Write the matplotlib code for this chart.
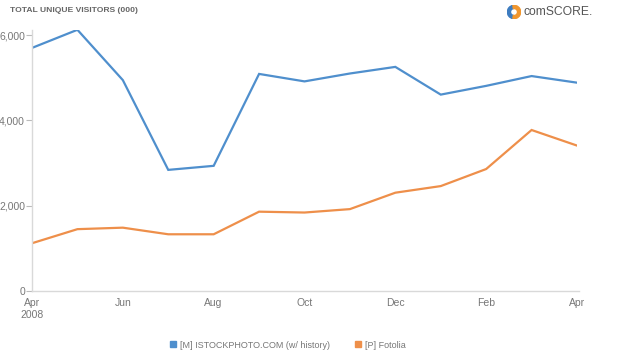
import matplotlib.pyplot as plt
from matplotlib.patches import Wedge
from matplotlib.lines import Line2D

plt.rcParams['font.family'] = ['Liberation Sans Narrow', 'Liberation Sans', 'DejaVu Sans']

# months Apr 2008 .. Apr 2009
months = ['Apr', 'May', 'Jun', 'Jul', 'Aug', 'Sep', 'Oct', 'Nov', 'Dec', 'Jan', 'Feb', 'Mar', 'Apr']
istock = [5700, 6125, 4945, 2840, 2935, 5090, 4915, 5100, 5255, 4605, 4810, 5040, 4885]
fotolia = [1120, 1450, 1485, 1330, 1330, 1860, 1840, 1920, 2305, 2460, 2860, 3775, 3410]
tick_labels = ['Apr\n2008', 'Jun', 'Aug', 'Oct', 'Dec', 'Feb', 'Apr']
yticks = [0, 2000, 4000, 6000]

blue = '#4f8fcd'
orange = '#ee8f4a'
grey = '#777777'

fig = plt.figure(figsize=(6.24, 3.53), dpi=100)
ax = fig.add_axes([32 / 624, 1 - 291 / 353, (577 - 32) / 624, (291 - 30) / 353])

x = list(range(len(months)))
ax.plot(x, istock, color=blue, lw=1.6, solid_joinstyle='miter')
ax.plot(x, fotolia, color=orange, lw=1.6, solid_joinstyle='miter')

ax.set_xlim(0, 12)
ax.set_ylim(0, 6120)
ax.set_xticks(x[::2])
ax.set_xticklabels(tick_labels)
ax.set_yticks(yticks)
ax.set_yticklabels(['{:,}'.format(v) for v in yticks])

for s in ['top', 'right']:
    ax.spines[s].set_visible(False)
for s in ['left', 'bottom']:
    ax.spines[s].set_color('#d9d9d9')
    ax.spines[s].set_linewidth(1.0)
ax.tick_params(axis='y', length=4, width=0.8, color='#bbbbbb', labelsize=7.5, labelcolor=grey, pad=1)
ax.tick_params(axis='x', length=0, labelsize=7.5, labelcolor=grey, pad=5)
ax.spines['bottom'].set_bounds(0, 12.05)

fig.text(10 / 624, 1 - 10 / 353, 'TOTAL UNIQUE VISITORS (000)', fontsize=6.1, fontweight='bold',
         color='#666666', va='center', ha='left', family=['Liberation Sans', 'DejaVu Sans'])

# comScore logo
lax = fig.add_axes([507 / 624, 1 - 19 / 353, 14 / 624, 14 / 353])
lax.set_xlim(-1, 1)
lax.set_ylim(-1, 1)
lax.axis('off')
lax.add_patch(Wedge((0, 0), 0.95, 100, 260, width=0.45, color='#3d7cc0'))
lax.add_patch(Wedge((0, 0), 0.95, 260, 100, width=0.45, color='#f0962e'))
fig.text(524 / 624, 1 - 12 / 353, 'comSCORE.', fontsize=8.7, color='#555555', va='center', ha='left',
         family=['Liberation Sans', 'DejaVu Sans'])

handles = [Line2D([], [], ls='', marker='s', ms=5, color=blue),
           Line2D([], [], ls='', marker='s', ms=5, color=orange)]
fig.legend(handles, ['[M] ISTOCKPHOTO.COM (w/ history)', '[P] Fotolia'], loc='center',
           bbox_to_anchor=(0.46, 1 - 345 / 353), ncol=2, frameon=False, fontsize=6.5,
           handletextpad=0.3, columnspacing=2.6, labelcolor=grey, handlelength=1)

fig.savefig('out.png', dpi=100)
